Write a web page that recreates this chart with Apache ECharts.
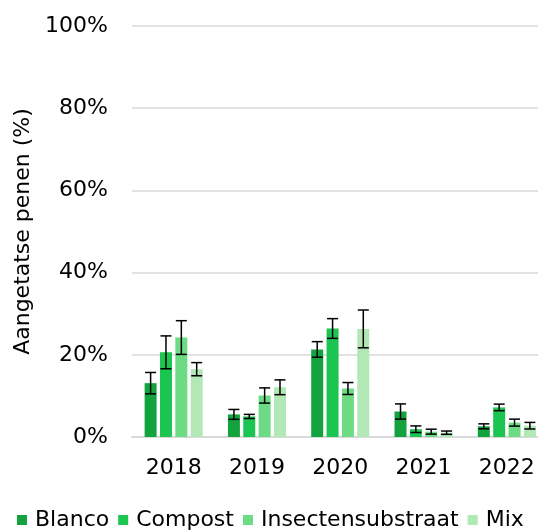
<!DOCTYPE html>
<html>
<head>
<meta charset="utf-8">
<style>
  html, body { margin: 0; padding: 0; background: #ffffff; }
  #chart { width: 538px; height: 532px; }
</style>
<script src="https://cdn.jsdelivr.net/npm/echarts@6/dist/echarts.min.js"></script>
</head>
<body>
<div id="chart"></div>
<script>
// Years on the category axis
const years = ['2018', '2019', '2020', '2021', '2022'];

// Share of affected carrots per treatment (%)
const blanco = [13.1, 5.5, 21.3, 6.2, 2.6];
const compost = [20.6, 5.0, 26.4, 1.9, 7.2];
const insecten = [24.2, 10.1, 11.8, 1.3, 3.5];
const mix = [16.5, 12.1, 26.3, 1.05, 2.75];

// Standard error per treatment (%)
const blancoErr = [2.6, 1.2, 1.9, 1.85, 0.6];
const compostErr = [4.0, 0.5, 2.4, 0.8, 0.8];
const insectenErr = [4.1, 1.85, 1.45, 0.6, 0.85];
const mixErr = [1.6, 1.8, 4.6, 0.4, 0.8];

// Y-axis ticks
const yTicks = [0, 20, 40, 60, 80, 100];

const seriesNames = ['Blanco', 'Compost', 'Insectensubstraat', 'Mix'];
const seriesValues = [blanco, compost, insecten, mix];
const seriesErrors = [blancoErr, compostErr, insectenErr, mixErr];
const colors = ['#13a33e', '#1cc451', '#6cdb84', '#b1e8b6'];

const BAR_W = 12;
const BAR_GAP = 0.28; // relative to bar width
const FONT = 'DejaVu Sans, Verdana, sans-serif';

const chart = echarts.init(document.getElementById('chart'), null, { renderer: 'canvas' });

const barSeries = seriesNames.map((name, i) => ({
  name: name,
  type: 'bar',
  data: seriesValues[i],
  barWidth: BAR_W,
  barGap: (BAR_GAP * 100) + '%',
  itemStyle: { color: colors[i] },
  z: 2
}));

// Error bars drawn as whiskers over each bar
const errorSeries = seriesNames.map((name, i) => ({
  name: name + ' fout',
  type: 'custom',
  z: 5,
  data: seriesValues[i].map((v, k) => [k, v - seriesErrors[i][k], v + seriesErrors[i][k]]),
  encode: { x: 0, y: [1, 2] },
  renderItem: function (params, api) {
    const step = BAR_W * (1 + BAR_GAP);
    const offset = (i - (seriesNames.length - 1) / 2) * step;
    const lo = api.coord([api.value(0), api.value(1)]);
    const hi = api.coord([api.value(0), api.value(2)]);
    const x = lo[0] + offset;
    const half = 5.5;
    const style = { stroke: '#000', lineWidth: 1.5 };
    return {
      type: 'group',
      children: [
        { type: 'line', shape: { x1: x, y1: lo[1], x2: x, y2: hi[1] }, style: style },
        { type: 'line', shape: { x1: x - half, y1: hi[1], x2: x + half, y2: hi[1] }, style: style },
        { type: 'line', shape: { x1: x - half, y1: lo[1], x2: x + half, y2: lo[1] }, style: style }
      ]
    };
  }
}));

chart.setOption({
  animation: false,
  backgroundColor: '#ffffff',
  textStyle: { fontFamily: FONT },
  grid: {
    left: 132, right: -10.5, top: 26, bottom: 95,
    containLabel: false,
    outerBoundsMode: 'none'
  },
  legend: {
    data: seriesNames,
    left: 17,
    top: 509,
    width: 900,
    padding: 0,
    icon: 'rect',
    itemWidth: 10,
    itemHeight: 10,
    itemGap: 9,
    textStyle: { fontFamily: FONT, fontSize: 22, color: '#000', padding: [0, 0, 0, 3] }
  },
  xAxis: {
    type: 'category',
    data: years,
    axisTick: { show: false },
    axisLine: { lineStyle: { color: '#d9d9d9', width: 2 } },
    axisLabel: { fontFamily: FONT, fontSize: 22, color: '#000', margin: 20 }
  },
  yAxis: {
    type: 'value',
    min: yTicks[0],
    max: yTicks[yTicks.length - 1],
    interval: yTicks[1] - yTicks[0],
    name: 'Aangetatse penen (%)',
    nameLocation: 'middle',
    nameGap: 98,
    nameTextStyle: { fontFamily: FONT, fontSize: 22, color: '#000' },
    axisLine: { show: false },
    axisTick: { show: false },
    axisLabel: { fontFamily: FONT, fontSize: 22, color: '#000', margin: 24, formatter: '{value}%' },
    splitLine: { lineStyle: { color: '#d9d9d9', width: 1.5 } }
  },
  series: barSeries.concat(errorSeries)
});
</script>
</body>
</html>
